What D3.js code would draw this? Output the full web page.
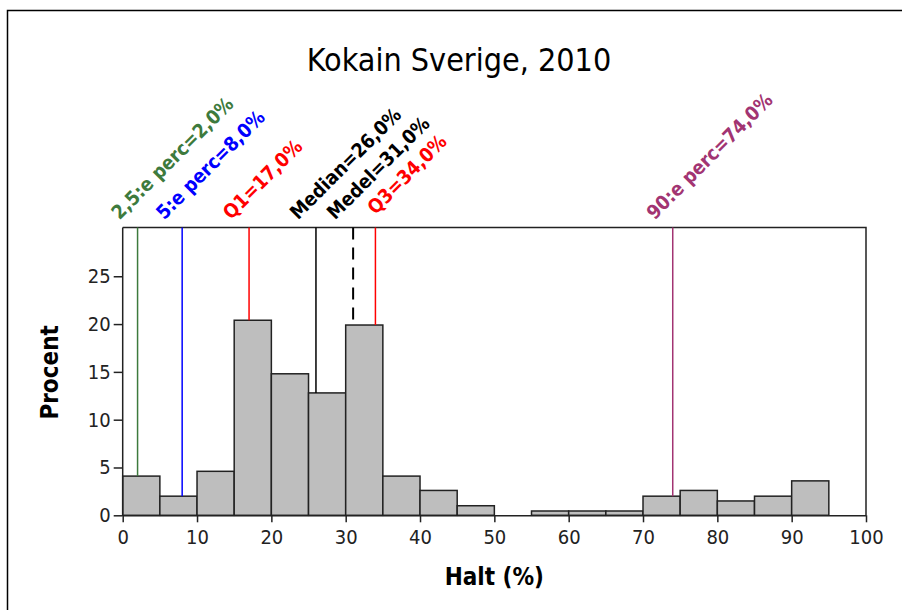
<!DOCTYPE html>
<html>
<head>
<meta charset="utf-8">
<script src="https://cdn.jsdelivr.net/npm/d3@7"></script>
<style>
  body { margin: 0; background: #fff; }
  svg { display: block; }
  text { font-family: "DejaVu Sans Condensed", "DejaVu Sans", sans-serif; }
</style>
</head>
<body>
<svg width="902" height="610"></svg>
<script>
// histogram bins (Halt %, width 5) and share of samples (%)
const binStarts = [0, 5, 10, 15, 20, 25, 30, 35, 40, 45, 50, 55, 60, 65, 70, 75, 80, 85, 90, 95];
const percents = [4.1, 2.0, 4.6, 20.4, 14.8, 12.8, 19.9, 4.1, 2.6, 1.0, 0, 0.45, 0.45, 0.45, 2.0, 2.6, 1.5, 2.0, 3.6, 0];
const binWidth = 5;

// reference lines
const refNames = ["2,5:e perc=2,0%", "5:e perc=8,0%", "Q1=17,0%", "Median=26,0%", "Medel=31,0%", "Q3=34,0%", "90:e perc=74,0%"];
const refValues = [2, 8, 17, 26, 31, 34, 74];
const refColors = ["#3d7a3d", "#0000ff", "#ff0000", "#000000", "#000000", "#ff0000", "#a23472"];
const refDashed = [false, false, false, false, true, false, false];

const xTicks = [0, 10, 20, 30, 40, 50, 60, 70, 80, 90, 100];
const yTicks = [0, 5, 10, 15, 20, 25];

const svg = d3.select("svg");
const plotL = 122.7, plotR = 866, plotT = 227.5, plotB = 515.3;

const x = d3.scaleLinear().domain([0, 100]).range([plotL, plotR]);
const y = d3.scaleLinear().domain([0, 30.1]).range([plotB, plotT]);

// outer frame
svg.append("path")
  .attr("d", `M7.5,610 V10.5 H902`)
  .attr("fill", "none").attr("stroke", "#000").attr("stroke-width", 1.5);

// title
svg.append("text")
  .attr("x", 459).attr("y", 71)
  .attr("text-anchor", "middle")
  .attr("font-size", 32)
  .text("Kokain Sverige, 2010");

// plot box (top and right)
svg.append("path")
  .attr("d", `M${plotL},${plotT} H${plotR} V${plotB}`)
  .attr("fill", "none").attr("stroke", "#222").attr("stroke-width", 1.5);

// bars
const bins = binStarts.map((b, i) => ({ x0: b, x1: b + binWidth, v: percents[i] }));
svg.append("g").selectAll("rect")
  .data(bins.filter(d => d.v > 0))
  .join("rect")
  .attr("x", d => x(d.x0))
  .attr("y", d => y(d.v))
  .attr("width", d => x(d.x1) - x(d.x0))
  .attr("height", d => y(0) - y(d.v))
  .attr("fill", "#bebebe")
  .attr("stroke", "#222")
  .attr("stroke-width", 1.5);

// reference lines from box top down to the bar under them
const barHeightAt = v => percents[Math.floor(v / binWidth)];
const refs = refValues.map((v, i) => ({ v, name: refNames[i], color: refColors[i], dashed: refDashed[i] }));

svg.append("g").selectAll("line")
  .data(refs)
  .join("line")
  .attr("x1", d => x(d.v)).attr("x2", d => x(d.v))
  .attr("y1", plotT).attr("y2", d => y(barHeightAt(d.v)))
  .attr("stroke", d => d.color)
  .attr("stroke-width", d => d.dashed ? 2 : 1.5)
  .attr("stroke-dasharray", d => d.dashed ? "12,8" : null);

// rotated labels above the box
const labelShift = { "Q3=34,0%": [18, -5] };
svg.append("g").selectAll("text")
  .data(refs)
  .join("text")
  .attr("transform", d => {
    const s = labelShift[d.name] || [0, 0];
    return `translate(${x(d.v) - 18 + s[0]},${plotT - 7 + s[1]}) rotate(-45)`;
  })
  .attr("font-size", 19.5)
  .attr("font-weight", "bold")
  .attr("fill", d => d.color)
  .text(d => d.name);

// axes
const xAxis = svg.append("g")
  .attr("transform", `translate(0,${plotB})`)
  .call(d3.axisBottom(x).tickValues(xTicks).tickSize(7).tickPadding(8).tickSizeOuter(0));
const yAxis = svg.append("g")
  .attr("transform", `translate(${plotL},0)`)
  .call(d3.axisLeft(y).tickValues(yTicks).tickSize(9).tickPadding(3).tickSizeOuter(0));

[xAxis, yAxis].forEach(g => {
  g.select(".domain").attr("stroke", "#222").attr("stroke-width", 1.5);
  g.selectAll(".tick line").attr("stroke", "#222").attr("stroke-width", 1.5);
  g.selectAll(".tick text")
    .attr("font-family", "\"DejaVu Sans Condensed\", sans-serif")
    .attr("font-size", 20).attr("fill", "#222");
});
yAxis.select(".domain").attr("d", `M0,${plotB} V${plotT}`);

// axis titles
svg.append("text")
  .attr("x", x(50)).attr("y", 585)
  .attr("text-anchor", "middle")
  .attr("font-size", 24).attr("font-weight", "bold")
  .text("Halt (%)");

svg.append("text")
  .attr("transform", `translate(58,${(plotT + plotB) / 2 + 1}) rotate(-90)`)
  .attr("text-anchor", "middle")
  .attr("font-size", 24).attr("font-weight", "bold")
  .text("Procent");
</script>
</body>
</html>
